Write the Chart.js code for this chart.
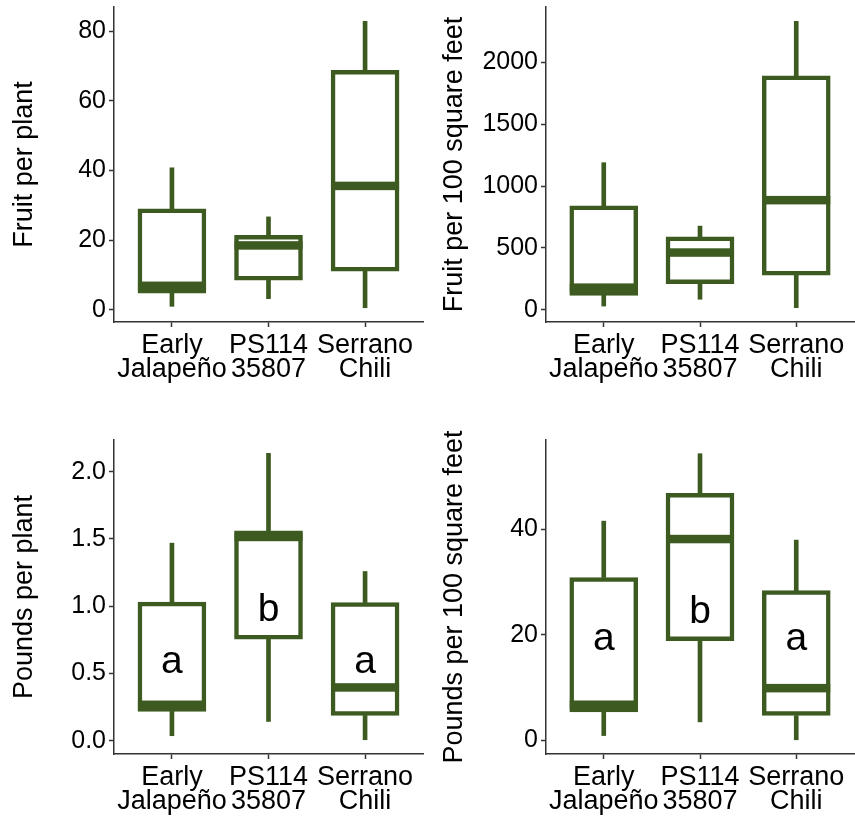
<!DOCTYPE html>
<html>
<head>
<meta charset="utf-8">
<script src="https://cdn.jsdelivr.net/npm/chart.js@4/dist/chart.umd.min.js"></script>
<style>
  body { margin: 0; background: #fff; }
  .panel { position: absolute; }
</style>
</head>
<body>
<div class="panel" style="left:0;top:0"><canvas id="c1" width="430" height="410"></canvas></div>
<div class="panel" style="left:430px;top:0"><canvas id="c2" width="425" height="410"></canvas></div>
<div class="panel" style="left:0;top:415px"><canvas id="c3" width="430" height="408"></canvas></div>
<div class="panel" style="left:430px;top:415px"><canvas id="c4" width="425" height="408"></canvas></div>
<script>
const categories = [['Early', 'Jalapeño'], ['PS114', '35807'], ['Serrano', 'Chili']];

// Fruit per plant
const fruitPlantMin = [1.0, 3.2, 0.6];
const fruitPlantQ1 = [4.8, 8.5, 11.1];
const fruitPlantMed = [6.9, 18.5, 35.6];
const fruitPlantQ3 = [29.0, 21.4, 68.8];
const fruitPlantMax = [40.8, 26.7, 82.9];
const fruitPlantTicks = [0, 20, 40, 60, 80];

// Fruit per 100 square feet
const fruitAreaMin = [29, 84, 16];
const fruitAreaQ1 = [116, 211, 278];
const fruitAreaMed = [178, 462, 886];
const fruitAreaQ3 = [840, 589, 1892];
const fruitAreaMax = [1189, 676, 2333];
const fruitAreaTicks = [0, 500, 1000, 1500, 2000];

// Pounds per plant
const lbPlantMin = [0.037, 0.143, 0.007];
const lbPlantQ1 = [0.218, 0.755, 0.188];
const lbPlantMed = [0.267, 1.515, 0.396];
const lbPlantQ3 = [1.03, 1.56, 1.027];
const lbPlantMax = [1.469, 2.137, 1.258];
const lbPlantTicks = [0, 0.5, 1.0, 1.5, 2.0];
const lbPlantLetters = ['a', 'b', 'a'];
const lbPlantLetterY = [0.58, 0.97, 0.58];

// Pounds per 100 square feet
const lbAreaMin = [0.9, 3.5, 0.1];
const lbAreaQ1 = [5.4, 18.9, 4.7];
const lbAreaMed = [6.75, 38.2, 9.9];
const lbAreaQ3 = [30.9, 46.9, 28.4];
const lbAreaMax = [41.6, 54.4, 38.0];
const lbAreaTicks = [0, 20, 40];
const lbAreaLetters = ['a', 'b', 'a'];
const lbAreaLetterY = [19.1, 24.4, 19.1];

const green = '#3d5b20';
const axisColor = '#333333';
const font = 'Liberation Sans, Arial, sans-serif';

// medians and letter annotations, placed with the chart scales
const boxExtras = {
  id: 'boxExtras',
  afterDatasetsDraw(chart, args, opts) {
    const xs = chart.scales.x, ys = chart.scales.y;
    const ctx = chart.ctx;
    ctx.save();
    ctx.fillStyle = green;
    opts.medians.forEach((m, i) => {
      const px = xs.getPixelForValue(i + 1);
      const py = ys.getPixelForValue(m);
      ctx.fillRect(px - 34, py - 4.25, 68, 8.5);
    });
    if (opts.letters) {
      ctx.fillStyle = '#000';
      ctx.font = '39px ' + font;
      ctx.textAlign = 'center';
      ctx.textBaseline = 'middle';
      opts.letters.forEach((t, i) => {
        ctx.fillText(t, xs.getPixelForValue(i + 1), ys.getPixelForValue(opts.letterY[i]));
      });
    }
    ctx.restore();
  }
};

function makePanel(id, cfg) {
  const range = (a, b) => a.map((v, i) => ({ x: i + 1, y: [v, b[i]] }));
  new Chart(document.getElementById(id), {
    type: 'bar',
    data: {
      datasets: [
        {
          data: range(cfg.q1, cfg.q3),
          backgroundColor: '#ffffff',
          borderColor: green,
          borderWidth: 4.5,
          borderSkipped: false,
          barThickness: 68,
          grouped: false,
          order: 1
        },
        {
          data: range(cfg.min, cfg.q1),
          backgroundColor: green,
          borderWidth: 0,
          barThickness: 4,
          grouped: false,
          order: 2
        },
        {
          data: range(cfg.q3, cfg.max),
          backgroundColor: green,
          borderWidth: 0,
          barThickness: 4,
          grouped: false,
          order: 2
        }
      ]
    },
    options: {
      responsive: false,
      animation: false,
      layout: { padding: { top: cfg.padTop, right: cfg.padRight, left: 0, bottom: 0 } },
      plugins: {
        legend: { display: false },
        tooltip: { enabled: false },
        boxExtras: { medians: cfg.med, letters: cfg.letters, letterY: cfg.letterY }
      },
      scales: {
        x: {
          type: 'linear',
          min: 0.4,
          max: 3.6,
          offset: false,
          afterBuildTicks: s => { s.ticks = [1, 2, 3].map(v => ({ value: v })); },
          afterFit: s => { s.height = cfg.xHeight; s.paddingLeft = 0; s.paddingRight = 0; },
          ticks: {
            callback: v => categories[v - 1],
            color: '#000',
            font: { family: font, size: 27, lineHeight: 0.89 },
            maxRotation: 0,
            autoSkip: false,
            padding: 7
          },
          grid: { offset: false, drawOnChartArea: false, tickLength: 5, tickColor: axisColor, tickWidth: 1.5 },
          border: { color: axisColor, width: 1.5 }
        },
        y: {
          min: cfg.yMin,
          max: cfg.yMax,
          afterBuildTicks: s => { s.ticks = cfg.ticks.map(v => ({ value: v })); },
          afterFit: s => { s.width = cfg.yWidth; s.paddingTop = 0; s.paddingBottom = 0; },
          ticks: {
            callback: v => cfg.fmt ? cfg.fmt(v) : String(v),
            color: '#000',
            font: { family: font, size: 25 },
            padding: 3
          },
          grid: { drawOnChartArea: false, tickLength: 5, tickColor: axisColor, tickWidth: 1.5 },
          border: { color: axisColor, width: 1.5 },
          title: {
            display: true,
            text: cfg.title,
            color: '#000',
            font: { family: font, size: 27 },
            padding: { top: 8, bottom: 0 }
          }
        }
      }
    },
    plugins: [boxExtras]
  });
}

makePanel('c1', {
  min: fruitPlantMin, q1: fruitPlantQ1, med: fruitPlantMed, q3: fruitPlantQ3, max: fruitPlantMax,
  ticks: fruitPlantTicks, yMin: -3.5, yMax: 87.0, title: 'Fruit per plant',
  yWidth: 114, padTop: 7, padRight: 7, xHeight: 88
});
makePanel('c2', {
  min: fruitAreaMin, q1: fruitAreaQ1, med: fruitAreaMed, q3: fruitAreaQ3, max: fruitAreaMax,
  ticks: fruitAreaTicks, yMin: -100, yMax: 2449, title: 'Fruit per 100 square feet',
  yWidth: 116, padTop: 7, padRight: 1, xHeight: 88
});
makePanel('c3', {
  min: lbPlantMin, q1: lbPlantQ1, med: lbPlantMed, q3: lbPlantQ3, max: lbPlantMax,
  ticks: lbPlantTicks, yMin: -0.099, yMax: 2.236, title: 'Pounds per plant',
  fmt: v => v.toFixed(1), letters: lbPlantLetters, letterY: lbPlantLetterY,
  yWidth: 114, padTop: 25, padRight: 7, xHeight: 69
});
makePanel('c4', {
  min: lbAreaMin, q1: lbAreaQ1, med: lbAreaMed, q3: lbAreaQ3, max: lbAreaMax,
  ticks: lbAreaTicks, yMin: -2.6, yMax: 57.0, title: 'Pounds per 100 square feet',
  letters: lbAreaLetters, letterY: lbAreaLetterY,
  yWidth: 116, padTop: 25, padRight: 1, xHeight: 69
});
</script>
</body>
</html>
